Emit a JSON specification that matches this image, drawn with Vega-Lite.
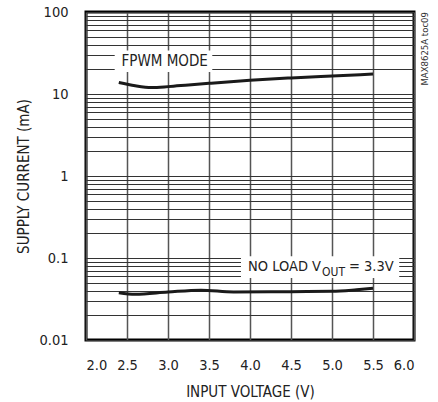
{
  "$schema": "https://vega.github.io/schema/vega-lite/v6.json",
  "width": 328,
  "height": 328,
  "autosize": {"type": "none"},
  "padding": {"left": 86, "top": 12, "right": 24, "bottom": 62},
  "background": "white",
  "config": {
    "view": {"stroke": "black", "strokeWidth": 3},
    "font": "DejaVu Sans Condensed",
    "axis": {
      "labelFont": "DejaVu Sans Condensed",
      "titleFont": "DejaVu Sans Condensed",
      "labelColor": "#222",
      "titleColor": "#222",
      "labelFontSize": 14.5,
      "titleFontSize": 15,
      "titleFontWeight": "normal",
      "domain": false,
      "ticks": false
    }
  },
  "datasets": {
    "curves": [
      {"series": "FPWM", "v": 2.4, "i": 13.8},
      {"series": "FPWM", "v": 2.6, "i": 12.6},
      {"series": "FPWM", "v": 2.8, "i": 12.0},
      {"series": "FPWM", "v": 3.0, "i": 12.3},
      {"series": "FPWM", "v": 3.25, "i": 12.9},
      {"series": "FPWM", "v": 3.5, "i": 13.5},
      {"series": "FPWM", "v": 4.0, "i": 14.7},
      {"series": "FPWM", "v": 4.5, "i": 15.7},
      {"series": "FPWM", "v": 5.0, "i": 16.6},
      {"series": "FPWM", "v": 5.5, "i": 17.5},
      {"series": "NOLOAD", "v": 2.4, "i": 0.0378},
      {"series": "NOLOAD", "v": 2.6, "i": 0.0362},
      {"series": "NOLOAD", "v": 3.0, "i": 0.0385},
      {"series": "NOLOAD", "v": 3.4, "i": 0.0405},
      {"series": "NOLOAD", "v": 3.8, "i": 0.0385},
      {"series": "NOLOAD", "v": 4.5, "i": 0.0388},
      {"series": "NOLOAD", "v": 5.0, "i": 0.0392},
      {"series": "NOLOAD", "v": 5.3, "i": 0.041},
      {"series": "NOLOAD", "v": 5.5, "i": 0.0427}
    ],
    "boxes": [
      {"v": 2.35, "v2": 3.54, "i": 18.5, "i2": 34},
      {"v": 3.89, "v2": 5.82, "i": 0.057, "i2": 0.105}
    ],
    "centered": [
      {"text": "FPWM MODE", "v": 2.96, "i": 25.2, "size": 15}
    ],
    "leftlabels": [
      {"text": "NO LOAD V", "v": 3.976, "i": 0.0785, "size": 14.5},
      {"text": "OUT", "v": 4.878, "i": 0.068, "size": 12},
      {"text": "= 3.3V", "v": 5.207, "i": 0.0785, "size": 14.5}
    ],
    "mark": [
      {"text": "MAX8625A toc09", "v": 6.13, "i": 100}
    ]
  },
  "layer": [
    {
      "data": {"name": "curves"},
      "mark": {"type": "line", "color": "#1a1a1a", "strokeWidth": 3, "interpolate": "monotone"},
      "encoding": {
        "x": {
          "field": "v", "type": "quantitative",
          "scale": {"domain": [2, 6], "nice": false, "zero": false},
          "axis": {
            "title": "INPUT VOLTAGE (V)",
            "values": [2, 2.5, 3, 3.5, 4, 4.5, 5, 5.5, 6],
            "format": ".1f",
            "labelPadding": 18,
            "titlePadding": 13,
            "gridColor": "#555",
            "gridWidth": 1.5,
            "gridOpacity": 1,
            "labelOverlap": false
          }
        },
        "y": {
          "field": "i", "type": "quantitative",
          "scale": {"type": "log", "domain": [0.01, 100], "nice": false},
          "axis": {
            "title": "SUPPLY CURRENT (mA)",
            "values": [0.01, 0.02, 0.03, 0.04, 0.05, 0.06, 0.07, 0.08, 0.09, 0.1, 0.2, 0.3, 0.4, 0.5, 0.6, 0.7, 0.8, 0.9, 1, 2, 3, 4, 5, 6, 7, 8, 9, 10, 20, 30, 40, 50, 60, 70, 80, 90, 100],
            "labelExpr": "indexof([0.01, 0.1, 1, 10, 100], datum.value) >= 0 ? format(datum.value, '~g') : ''",
            "labelPadding": 18,
            "titlePadding": 7,
            "gridColor": "#333",
            "gridWidth": 1.2,
            "gridOpacity": 1,
            "labelOverlap": false,
            "labelBound": false
          }
        },
        "detail": {"field": "series"}
      }
    },
    {
      "data": {"name": "boxes"},
      "mark": {"type": "rect", "fill": "white", "stroke": null},
      "encoding": {
        "x": {"field": "v", "type": "quantitative"},
        "x2": {"field": "v2"},
        "y": {"field": "i", "type": "quantitative"},
        "y2": {"field": "i2"}
      }
    },
    {
      "data": {"name": "centered"},
      "mark": {"type": "text", "align": "center", "baseline": "middle", "color": "#222", "font": "DejaVu Sans Condensed"},
      "encoding": {
        "x": {"field": "v", "type": "quantitative"},
        "y": {"field": "i", "type": "quantitative"},
        "text": {"field": "text"},
        "size": {"field": "size", "type": "quantitative", "scale": null}
      }
    },
    {
      "data": {"name": "leftlabels"},
      "mark": {"type": "text", "align": "left", "baseline": "middle", "color": "#222", "font": "DejaVu Sans Condensed"},
      "encoding": {
        "x": {"field": "v", "type": "quantitative"},
        "y": {"field": "i", "type": "quantitative"},
        "text": {"field": "text"},
        "size": {"field": "size", "type": "quantitative", "scale": null}
      }
    },
    {
      "data": {"name": "mark"},
      "mark": {"type": "text", "angle": 270, "align": "right", "baseline": "middle", "fontSize": 9.5, "color": "#333", "font": "DejaVu Sans Condensed"},
      "encoding": {
        "x": {"field": "v", "type": "quantitative"},
        "y": {"field": "i", "type": "quantitative"},
        "text": {"field": "text"}
      }
    }
  ]
}
